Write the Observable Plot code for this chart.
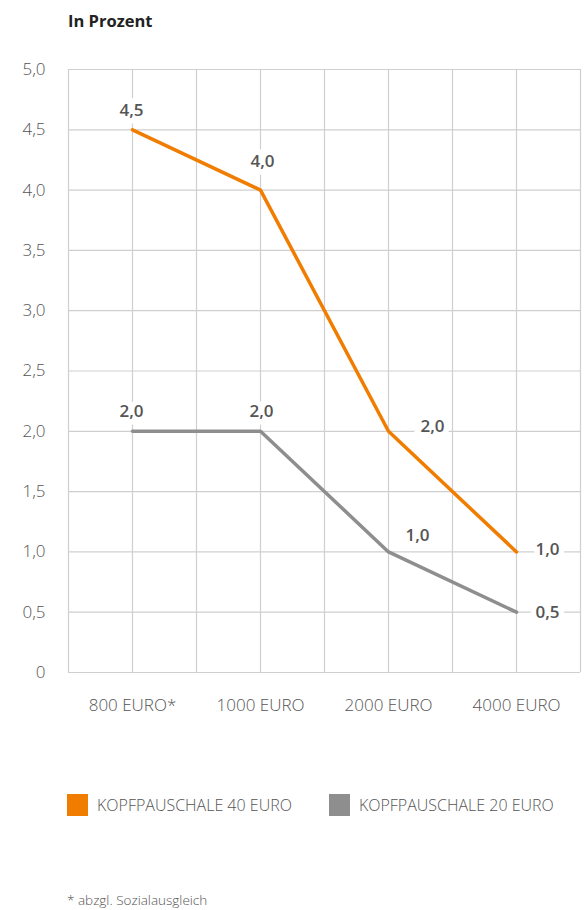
<!DOCTYPE html>
<html>
<head>
<meta charset="utf-8">
<script src="https://cdn.jsdelivr.net/npm/d3@7"></script>
<script src="https://cdn.jsdelivr.net/npm/@observablehq/plot@0.6"></script>
<style>
  body { margin: 0; background: #fff; width: 587px; height: 910px; position: relative; overflow: hidden; font-family: "Open Sans", "Noto Sans", sans-serif; }
  #title { position: absolute; left: 68px; top: 9px; font-size: 16.5px; font-weight: 700; color: #222; }
  #chart { position: absolute; left: 0; top: 40px; }
  #legend { position: absolute; left: 67px; top: 794px; display: flex; align-items: center; font-size: 16px; font-weight: 300; color: #555; }
  .sw { width: 21px; height: 22px; display: inline-block; margin-right: 9px; }
  .item { display: flex; align-items: center; }
  #note { position: absolute; left: 67px; top: 891px; font-size: 13.5px; font-weight: 300; color: #555; }
</style>
</head>
<body>
<div id="title">In Prozent</div>
<div id="chart"></div>
<div id="legend"></div>
<div id="note">* abzgl. Sozialausgleich</div>
<script>
const categories = ["800 EURO*", "1000 EURO", "2000 EURO", "4000 EURO"];
const seriesNames = ["KOPFPAUSCHALE 40 EURO", "KOPFPAUSCHALE 20 EURO"];
const kopf40 = [4.5, 4.0, 2.0, 1.0];
const kopf20 = [2.0, 2.0, 1.0, 0.5];
const yTicks = [0, 0.5, 1, 1.5, 2, 2.5, 3, 3.5, 4, 4.5, 5];

const colors = ["#F07D00", "#8E8E8E"];
const fmt = d => d === 0 ? "0" : d.toFixed(1).replace(".", ",");

const rows = [];
[kopf40, kopf20].forEach((vals, s) => vals.forEach((v, i) => rows.push({ s: seriesNames[s], i, v })));

// label placement (styling, not data)
const offsets = {
  [seriesNames[0]]: [[-1, -19], [2, -29], [44, -5], [31, -2]],
  [seriesNames[1]]: [[-1, -20], [1, -20], [29, -16], [31, 0]]
};

const gridX = d3.range(-0.5, 3.51, 0.5);

const labelMarks = rows.map(r => Plot.text([r], {
  x: "i", y: "v", text: d => fmt(d.v),
  dx: offsets[r.s][r.i][0], dy: offsets[r.s][r.i][1],
  fill: "#555", stroke: "white", strokeWidth: 11, strokeLinejoin: "miter",
  fontWeight: 600, fontSize: 17
}));

const chart = Plot.plot({
  width: 587, height: 700,
  marginLeft: 68, marginRight: 7, marginTop: 29, marginBottom: 68,
  style: { fontFamily: "'Open Sans', 'Noto Sans', sans-serif", fontSize: "17px", color: "#555", fontWeight: 300, background: "white" },
  x: { domain: [-0.5, 3.5], label: null },
  y: { domain: [0, 5], label: null },
  marks: [
    Plot.ruleY(yTicks, { stroke: "#cfcfcf", strokeWidth: 1.2 }),
    Plot.ruleX(gridX, { stroke: "#cfcfcf", strokeWidth: 1.2 }),
    Plot.line(rows, { x: "i", y: "v", z: "s", stroke: d => d.s === seriesNames[0] ? colors[0] : colors[1], strokeWidth: 3.5, strokeLinejoin: "miter" }),
    ...labelMarks,
    Plot.axisX({ ticks: [0, 1, 2, 3], tickFormat: i => categories[i], tickSize: 0, tickPadding: 26, label: null }),
    Plot.axisY({ ticks: yTicks, tickFormat: fmt, tickSize: 0, tickPadding: 23, label: null })
  ]
});
document.getElementById("chart").appendChild(chart);

const legend = document.getElementById("legend");
seriesNames.forEach((n, k) => {
  const it = document.createElement("div");
  it.className = "item";
  if (k > 0) it.style.marginLeft = "37px";
  it.innerHTML = `<span class="sw" style="background:${colors[k]}"></span><span>${n}</span>`;
  legend.appendChild(it);
});
</script>
</body>
</html>
